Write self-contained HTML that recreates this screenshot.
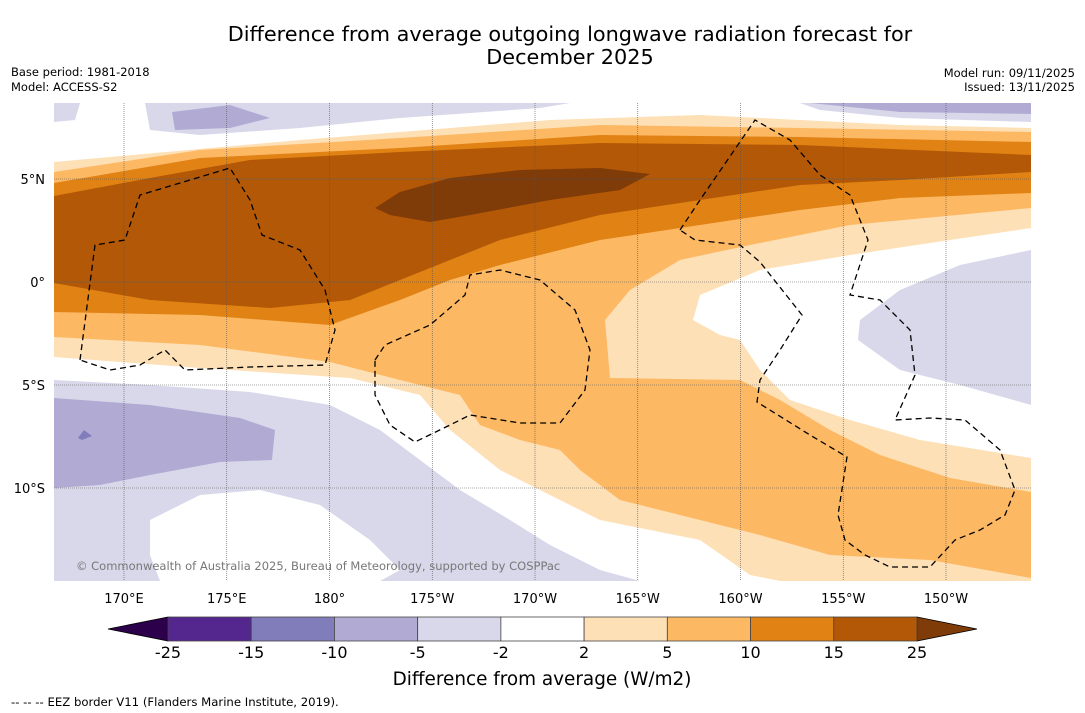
<!DOCTYPE html>
<html><head><meta charset="utf-8">
<style>
body{margin:0;background:#fff;width:1085px;height:713px;overflow:hidden;font-family:"DejaVu Sans","Liberation Sans",sans-serif;}
svg{display:block}
</style></head>
<body>
<svg id="root" width="1085" height="713" viewBox="0 0 1085 713">
<text x="570" y="41" font-size="20.8" text-anchor="middle">Difference from average outgoing longwave radiation forecast for</text>
<text x="570" y="64" font-size="20.8" text-anchor="middle">December 2025</text>
<text x="11" y="76" font-size="11.5">Base period: 1981-2018</text>
<text x="11" y="91" font-size="11.5">Model: ACCESS-S2</text>
<text x="1075" y="77" font-size="11.5" text-anchor="end">Model run: 09/11/2025</text>
<text x="1075" y="91" font-size="11.5" text-anchor="end">Issued: 13/11/2025</text>
<defs><clipPath id="mapclip"><rect x="54" y="103" width="977" height="478"/></clipPath></defs>
<g id="map" clip-path="url(#mapclip)">
<rect x="54" y="103" width="977" height="478" fill="#ffffff"/>
<path fill="#fde0b6" d="M54,162 L300,140 L550,120 L700,115 L900,125 L1031,128 L1031,581 L780,581 L750,575 L700,540 L600,520 L560,500 L500,470 L450,430 L420,395 L350,378 L200,368 L54,357 Z"/>
<path fill="#ffffff" d="M1031,228 L950,240 L850,255 L760,270 L700,295 L693,320 L720,335 L740,340 L760,370 L790,400 L850,420 L920,440 L1031,458 Z"/>
<path fill="#fdb863" d="M54,172 L200,150 L400,138 L600,125 L800,128 L1031,132 L1031,208 L850,225 L750,245 L680,260 L630,290 L605,320 L610,378 L740,380 L780,400 L830,430 L880,455 L950,478 L1031,492 L1031,578 L930,560 L830,555 L760,535 L700,520 L620,500 L580,470 L560,450 L520,440 L480,425 L460,395 L400,380 L330,362 L200,345 L54,337 Z"/>
<path fill="#e08214" d="M54,183 L200,158 L400,148 L600,135 L800,137 L1031,142 L1031,193 L900,198 L800,210 L700,225 L600,240 L500,265 L450,280 L400,300 L330,325 L200,315 L54,312 Z"/>
<path fill="#b35806" d="M54,196 L150,178 L250,160 L400,152 L600,143 L800,145 L1031,155 L1031,172 L900,180 L800,185 L700,200 L600,215 L500,240 L430,268 L350,300 L270,308 L150,300 L54,283 Z"/>
<path fill="#7f3b08" d="M375,208 L400,192 L450,178 L520,170 L600,168 L650,174 L620,190 L550,200 L470,215 L430,222 L390,215 Z"/>
<path fill="#d8d8ea" d="M145,103 L570,103 L540,108 L400,118 L300,128 L200,135 L150,130 Z M54,103 L80,103 L75,120 L54,122 Z M800,103 L1031,103 L1031,122 L900,118 L820,110 Z"/>
<path fill="#b1abd4" d="M172,112 L230,105 L270,118 L230,128 L175,130 Z M810,103 L1031,103 L1031,114 L900,112 Z"/>
<path fill="#d8d8ea" d="M54,380 L150,385 L250,392 L330,405 L380,430 L420,460 L460,490 L510,520 L550,545 L600,570 L640,581 L54,581 Z"/>
<path fill="#ffffff" d="M150,520 L200,495 L260,490 L320,505 L370,540 L400,570 L380,581 L160,581 L150,555 Z"/>
<path fill="#b1abd4" d="M54,398 L150,405 L240,418 L275,430 L272,460 L220,462 L150,475 L100,485 L54,488 Z"/>
<path fill="#807dba" d="M78,438 L84,430 L92,436 L82,440 Z"/>
<path fill="#d8d8ea" d="M1031,250 L960,265 L900,290 L860,320 L858,340 L900,370 L960,385 L1031,405 Z"/>
<g id="grid"></g>
<g fill="none" stroke="#000" stroke-width="1.3" stroke-dasharray="6,4">
<path d="M80,360 L95,245 L125,240 L140,195 L230,168 L250,200 L262,235 L300,250 L325,290 L335,330 L325,365 L250,367 L185,370 L165,350 L140,365 L110,370 L80,360"/>
<path d="M375,360 L385,345 L430,325 L465,295 L470,275 L500,270 L540,280 L575,310 L590,350 L585,390 L560,423 L520,423 L470,415 L450,425 L415,442 L390,425 L375,395 L375,360"/>
<path d="M680,230 L700,200 L755,120 L790,140 L820,175 L850,195 L868,240 L850,295 L880,300 L910,330 L915,375 L895,420 L930,418 L965,420 L1000,450 L1015,490 L1005,515 L980,530 L955,540 L930,567 L890,567 L865,555 L845,540 L838,515 L847,457 L810,435 L757,402 L760,380 L780,350 L802,315 L760,262 L740,245 L695,240 L680,230"/>
</g>
<text x="76" y="570" font-size="11.5" fill="#777">© Commonwealth of Australia 2025, Bureau of Meteorology, supported by COSPPac</text>
</g>
<g id="axes"></g>
<g id="cbar"></g>
<text x="542" y="685" font-size="18.4" text-anchor="middle">Difference from average (W/m2)</text>
<text x="11" y="706" font-size="11.7">--  --  -- EEZ border V11 (Flanders Marine Institute, 2019).</text>
</svg>
<script>
const NS='http://www.w3.org/2000/svg';
const lonTicks=[170,175,180,185,190,195,200,205,210];
const lonLabels=['170°E','175°E','180°','175°W','170°W','165°W','160°W','155°W','150°W'];
const latTicks=[5,0,-5,-10];
const latLabels=['5°N','0°','5°S','10°S'];
const cbLevels=[-25,-15,-10,-5,-2,2,5,10,15,25];
const cbColors=['#54278f','#807dba','#b1abd4','#d8d8ea','#ffffff','#fde0b6','#fdb863','#e08214','#b35806'];
const cbUnder='#2d004b', cbOver='#7f3b08';
const xLon=l=>124+(l-170)*20.55;
const yLat=l=>282-l*20.6;
function mk(t,a,p){const e=document.createElementNS(NS,t);for(const k in a)e.setAttribute(k,a[k]);p.appendChild(e);return e;}
const grid=document.getElementById('grid'),axes=document.getElementById('axes');
lonTicks.forEach((l,i)=>{const x=xLon(l);
 const ln=mk('line',{x1:x,x2:x,y1:103,y2:581,stroke:'#555','stroke-width':0.6,'stroke-dasharray':'1,1'},grid);
 
 
 const t=mk('text',{x:x,y:603,'font-size':13,'text-anchor':'middle'},axes);t.textContent=lonLabels[i];
 
 });
latTicks.forEach((l,i)=>{const y=yLat(l);
 const ln=mk('line',{x1:54,x2:1031,y1:y,y2:y,stroke:'#555','stroke-width':0.6,'stroke-dasharray':'1,1'},grid);
 
 
 const t=mk('text',{x:45,y:y+5,'font-size':13,'text-anchor':'end'},axes);t.textContent=latLabels[i];
 
 });
const cb=document.getElementById('cbar');
const cx0=168,cx1=917,cy0=617,cy1=641,n=cbColors.length,w=(cx1-cx0)/n;
const xCb=i=>cx0+i*w;
const tu=mk('polygon',{points:`${cx0},${cy0} 108,${(cy0+cy1)/2} ${cx0},${cy1}`,fill:cbUnder,stroke:'#000','stroke-width':0.8},cb);


const to=mk('polygon',{points:`${cx1},${cy0} 977,${(cy0+cy1)/2} ${cx1},${cy1}`,fill:cbOver,stroke:'#000','stroke-width':0.8},cb);


cbColors.forEach((c,i)=>{const r=mk('rect',{x:xCb(i),y:cy0,width:w,height:cy1-cy0,fill:c,stroke:'#444','stroke-width':0.8},cb);
 
 });
cbLevels.forEach((v,i)=>{const t=mk('text',{x:xCb(i),y:658,'font-size':16,'text-anchor':'middle'},cb);t.textContent=v;
 
 });
</script>
</body></html>
